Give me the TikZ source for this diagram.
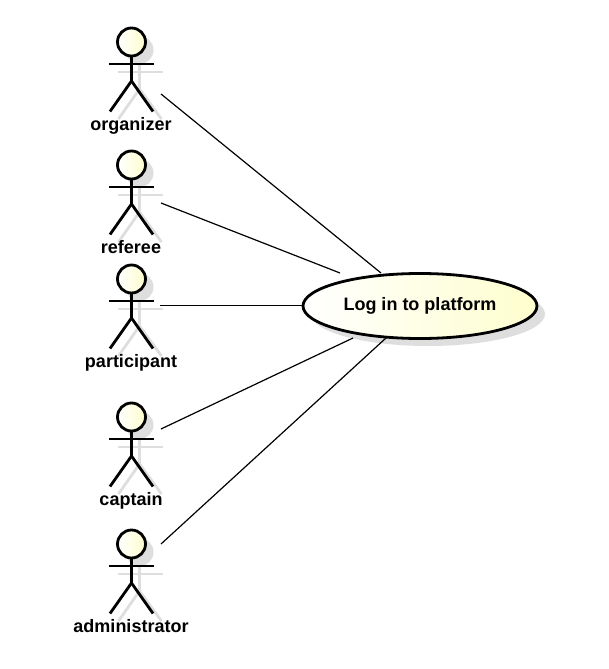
\documentclass[tikz,border=0pt]{standalone}
\usepackage{fontspec}
\setmainfont{Liberation Sans}
\usetikzlibrary{shapes.geometric}
\definecolor{umlfill}{HTML}{FEFECE}
\definecolor{umlshadow}{HTML}{DEDEDE}
\tikzset{
  x=1pt,y=-1pt,
  limb/.style={draw=black,line width=2.8pt},
  limbshadow/.style={draw=umlshadow,line width=2.8pt},
  link/.style={draw=black,line width=1.2pt},
  actorhead/.style={circle,draw=black,line width=2.8pt,inner sep=0pt,minimum size=28pt,left color=white,right color=umlfill},
  actorname/.style={font=\fontsize{18}{20}\selectfont\bfseries,text=black,inner sep=0pt,anchor=base},
  usecase/.style={ellipse,draw=black,line width=2.8pt,inner sep=0pt,minimum width=234pt,minimum height=65pt,left color=white,right color=umlfill,font=\fontsize{18}{20}\selectfont\bfseries},
  usecaseshadow/.style={ellipse,draw=none,fill=umlshadow,inner sep=0pt,minimum width=234pt,minimum height=64pt}
}
\newcommand{\stickfigure}[4]{%
  % #1 id, #2 x of centre, #3 y of head centre, #4 name
  \fill[umlshadow] (#2+8,#3+8) circle[radius=14];
  \draw[limbshadow] (#2-14,#3+30) -- (#2+31,#3+30);
  \draw[limbshadow] (#2+8,#3+20) -- (#2+8,#3+47) -- (#2-13,#3+77);
  \draw[limbshadow] (#2+8,#3+47) -- (#2+30,#3+77);
  \node[actorhead] (#1head) at (#2,#3) {};
  \coordinate (#1neck) at (#2,#3+14);
  \coordinate (#1hip) at (#2,#3+39);
  \coordinate (#1armL) at (#2-22.5,#3+22);
  \coordinate (#1armR) at (#2+22.5,#3+22);
  \coordinate (#1legL) at (#2-21.5,#3+69.5);
  \coordinate (#1legR) at (#2+21.5,#3+69.5);
  \draw[limb] (#1neck) -- (#1hip) -- (#1legL);
  \draw[limb] (#1hip) -- (#1legR);
  \draw[limb] (#1armL) -- (#1armR);
  \node[actorname] (#1name) at (#2-0.5,#3+88) {#4};
}
\begin{document}
\begin{tikzpicture}
\useasboundingbox (0,0) rectangle (608,669);
\node[usecaseshadow] at (428,314) {};
\stickfigure{org}{131.5}{42}{organizer}
\stickfigure{ref}{131.5}{165}{referee}
\stickfigure{par}{131.5}{279}{participant}
\stickfigure{cap}{131.5}{417}{captain}
\stickfigure{adm}{131.5}{544}{administrator}
\coordinate (orgend) at (161,94);
\coordinate (refend) at (161,203);
\coordinate (parend) at (160,305.5);
\coordinate (capend) at (161,429);
\coordinate (admend) at (161,544);
\coordinate (ucA) at (381,273);
\coordinate (ucB) at (340,273);
\coordinate (ucC) at (303,305.5);
\coordinate (ucD) at (353,338);
\coordinate (ucE) at (386,338);
\draw[link] (orgend) -- (ucA);
\draw[link] (refend) -- (ucB);
\draw[link] (parend) -- (ucC);
\draw[link] (capend) -- (ucD);
\draw[link] (admend) -- (ucE);
\node[usecase] (login) at (420,306) {Log in to platform};
\end{tikzpicture}
\end{document}
